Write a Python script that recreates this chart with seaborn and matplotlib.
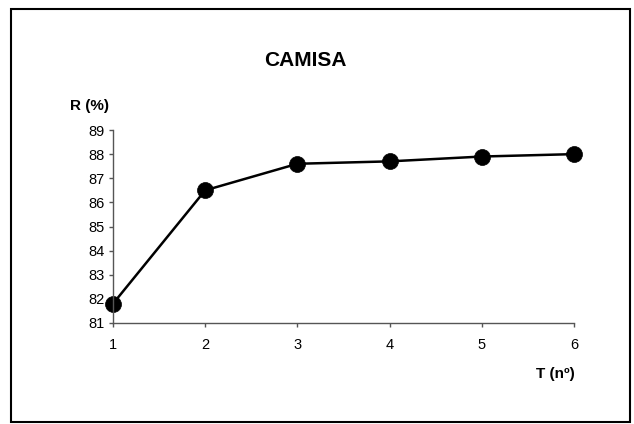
import numpy as np
import pandas as pd
import matplotlib
matplotlib.use("Agg")
import matplotlib.pyplot as plt
import seaborn as sns
from matplotlib.patches import Rectangle

# data
t_values = [1, 2, 3, 4, 5, 6]
r_values = [81.8, 86.5, 87.6, 87.7, 87.9, 88.0]
y_ticks = [81, 82, 83, 84, 85, 86, 87, 88, 89]

df = pd.DataFrame({'T': t_values, 'R': r_values})

sns.set_style("white")
plt.rcParams['font.family'] = ['Liberation Sans', 'DejaVu Sans']
plt.rcParams['text.color'] = 'black'

fig = plt.figure(figsize=(6.34, 4.24), dpi=100)
ax = fig.add_axes([113/634, 1 - 323/424, 461/634, 193/424])

sns.lineplot(data=df, x='T', y='R', ax=ax, color='black', linewidth=1.8,
             marker='o', markersize=11.5, markeredgewidth=0.5,
             markeredgecolor='black', clip_on=False)

ax.set_xlim(1, 6)
ax.set_ylim(81, 89)
ax.set_xticks(t_values)
ax.set_yticks(y_ticks)
ax.set_xlabel('')
ax.set_ylabel('')

for side in ['top', 'right']:
    ax.spines[side].set_visible(False)
for side in ['left', 'bottom']:
    ax.spines[side].set_color('#555555')
    ax.spines[side].set_linewidth(1.0)

ax.tick_params(axis='both', direction='out', length=3, width=1.0,
               color='#555555', labelsize=10.5, labelcolor='black')
ax.tick_params(axis='x', pad=8, bottom=True)
ax.tick_params(axis='y', pad=3, left=True)

# titles and axis names
fig.text(305/634, 1 - 60/424, 'CAMISA', ha='center', va='center',
         fontsize=15, fontweight='bold', color='black')
fig.text(70/634, 1 - 106/424, 'R (%)', ha='left', va='center',
         fontsize=11, fontweight='bold', color='black')
fig.text(575/634, 1 - 374/424, 'T (nº)', ha='right', va='center',
         fontsize=11, fontweight='bold', color='black')

# frame around the chart
fig.patches.append(Rectangle((11/634, 1 - 422/424), 619/634, 413/424,
                             transform=fig.transFigure, fill=False,
                             edgecolor='black', linewidth=1.5))

fig.savefig('out.png', dpi=100)
